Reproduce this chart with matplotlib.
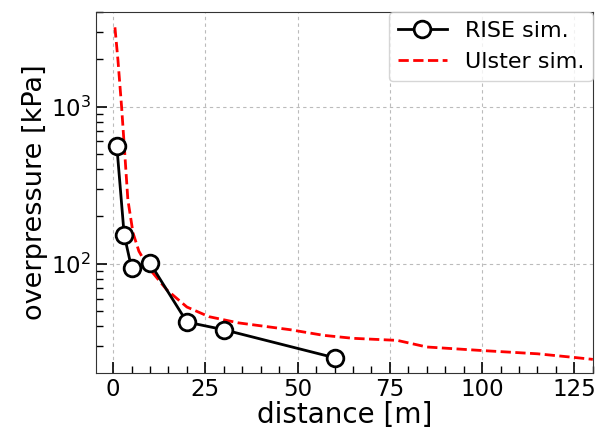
import matplotlib
matplotlib.use("Agg")
import matplotlib.pyplot as plt
from matplotlib.ticker import MultipleLocator

# RISE simulation
rise_x = [1, 3, 5, 10, 20, 30, 60]
rise_p = [565, 153, 94, 101, 42.5, 38, 25.2]

# Ulster simulation
ulster_x = [0.5, 1.3, 2.3, 3.1, 4.0, 5.4, 7.0, 9.5, 14.6, 20, 26, 34, 48, 57, 65, 77, 85, 100, 115, 125, 130]
ulster_p = [3200, 2000, 1000, 530, 256, 157, 120, 95, 68, 53, 46, 42, 38, 35, 33.5, 32.5, 29.5, 28, 26.7, 25.3, 24.6]

fig = plt.figure(figsize=(5.97, 4.32), dpi=100)
ax = fig.add_axes([0.161, 0.137, 0.832, 0.835])

ax.plot(rise_x, rise_p, "-o", color="black", lw=2, markersize=12,
        markerfacecolor="white", markeredgewidth=2, label="RISE sim.", zorder=3)
ax.plot(ulster_x, ulster_p, "--", color="red", lw=2, label="Ulster sim.")

ax.set_yscale("log")
ax.set_xlim(-4.6, 130)
ax.set_ylim(20.2, 4000)
ax.xaxis.set_major_locator(MultipleLocator(25))
ax.xaxis.set_minor_locator(MultipleLocator(5))

ax.grid(True, which="major", ls=(0, (3, 3)), color="#bbbbbb", lw=0.8)
ax.tick_params(which="both", direction="in", labelsize=16.5)
ax.tick_params(which="major", length=8, width=1.2)
ax.tick_params(which="minor", length=5, width=1)

ax.set_xlabel("distance [m]", fontsize=20, labelpad=0)
ax.set_ylabel("overpressure [kPa]", fontsize=19.5, labelpad=2)

for s in ax.spines.values():
    s.set_color("#333333")

leg = ax.legend(loc="upper right", fontsize=16, borderaxespad=0, handlelength=2.2)
leg.get_frame().set_edgecolor("#cccccc")

fig.savefig("out.png", dpi=100)
